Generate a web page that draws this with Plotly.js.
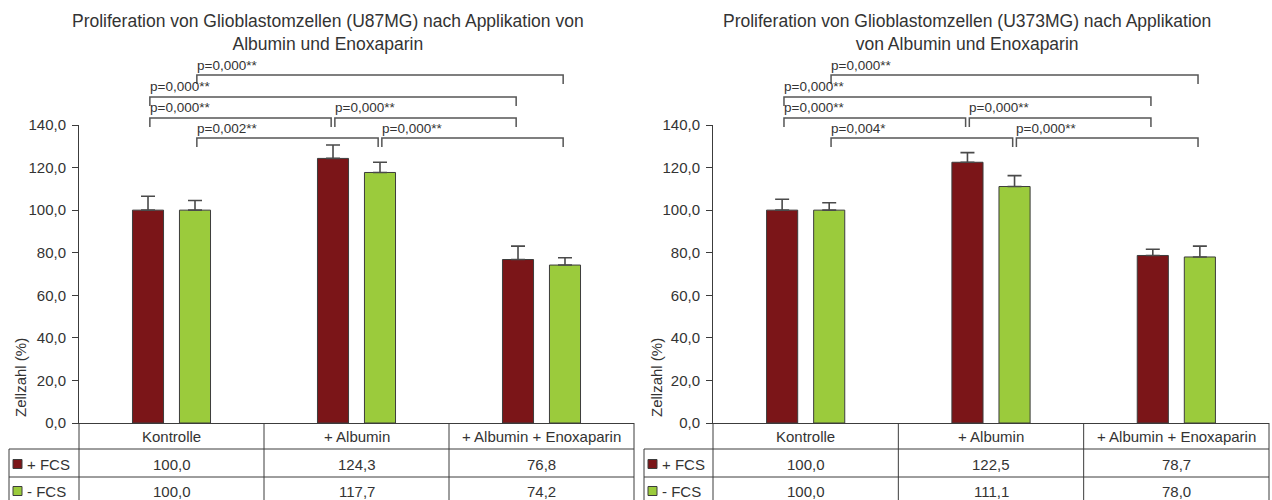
<!DOCTYPE html>
<html>
<head>
<meta charset="utf-8">
<script src="https://cdn.plot.ly/plotly-3.0.1.min.js"></script>
<style>
  html, body { margin: 0; padding: 0; background: #fff; }
  #chart { width: 1272px; height: 500px; }
</style>
</head>
<body>
<div id="chart"></div>
<script>
// Treatment groups and series
const categories = ['Kontrolle', '+ Albumin', '+ Albumin + Enoxaparin'];
const seriesNames = ['+ FCS', '- FCS'];

// U87MG: mean cell count (%) and standard deviation
const u87PlusFcs = [100.0, 124.3, 76.8];
const u87MinusFcs = [100.0, 117.7, 74.2];
const u87PlusFcsSd = [6.5, 6.3, 6.3];
const u87MinusFcsSd = [4.5, 4.8, 3.4];

// U373MG: mean cell count (%) and standard deviation
const u373PlusFcs = [100.0, 122.5, 78.7];
const u373MinusFcs = [100.0, 111.1, 78.0];
const u373PlusFcsSd = [5.1, 4.5, 2.9];
const u373MinusFcsSd = [3.5, 5.1, 5.1];

// Significance tests: from/to = [group index, series index], row = stacking row (0 = top)
const u87Tests = [
  { from: [0, 1], to: [2, 1], p: 'p=0,000**', row: 0 },
  { from: [0, 0], to: [2, 0], p: 'p=0,000**', row: 1 },
  { from: [0, 0], to: [1, 0], p: 'p=0,000**', row: 2 },
  { from: [1, 0], to: [2, 0], p: 'p=0,000**', row: 2 },
  { from: [0, 1], to: [1, 1], p: 'p=0,002**', row: 3 },
  { from: [1, 1], to: [2, 1], p: 'p=0,000**', row: 3 }
];
const u373Tests = [
  { from: [0, 1], to: [2, 1], p: 'p=0,000**', row: 0 },
  { from: [0, 0], to: [2, 0], p: 'p=0,000**', row: 1 },
  { from: [0, 0], to: [1, 0], p: 'p=0,000**', row: 2 },
  { from: [1, 0], to: [2, 0], p: 'p=0,000**', row: 2 },
  { from: [0, 1], to: [1, 1], p: 'p=0,004*', row: 3 },
  { from: [1, 1], to: [2, 1], p: 'p=0,000**', row: 3 }
];

const titleU87 = 'Proliferation von Glioblastomzellen (U87MG) nach Applikation von<br>Albumin und Enoxaparin';
const titleU373 = 'Proliferation von Glioblastomzellen (U373MG) nach Applikation<br>von Albumin und Enoxaparin';
const yTitle = 'Zellzahl (%)';

// ---- drawing ----
const W = 1272, H = 500;
const FONT = 'Liberation Sans, Arial, sans-serif';
const TEXT = '#333333';
const LINE = '#3c3c3c';
const COLORS = ['#7b1518', '#9bcb3c'];
const px = v => v / W;           // pixel -> paper x
const py = v => 1 - v / H;       // pixel -> paper y

const AXIS_TOP = 125, AXIS_BOTTOM = 423;
const HEADER_BOTTOM = 449, ROW1_BOTTOM = 477, TABLE_BOTTOM = 500;
const ROW_CENTERS = [436, 464, 491];
const BRACKET_ROWS = [75, 97, 118, 138];
const BRACKET_DROP = 9;
const BAR_SHIFT = 0.127;          // centre of each bar relative to its group

const panels = [
  { xa: 'x', ya: 'y', left: 79, right: 634, tableLeft: 9, titleX: 328, yTitleX: 20,
    title: titleU87, series: [u87PlusFcs, u87MinusFcs], sd: [u87PlusFcsSd, u87MinusFcsSd], tests: u87Tests },
  { xa: 'x2', ya: 'y2', left: 713, right: 1269, tableLeft: 644, titleX: 967, yTitleX: 656,
    title: titleU373, series: [u373PlusFcs, u373MinusFcs], sd: [u373PlusFcsSd, u373MinusFcsSd], tests: u373Tests }
];

const fmt = v => v.toFixed(1).replace('.', ',');
const xIdx = categories.map((c, i) => i);

const data = [];
const shapes = [];
const annotations = [];
const layout = {
  width: W, height: H,
  margin: { l: 0, r: 0, t: 0, b: 0 },
  paper_bgcolor: '#fff', plot_bgcolor: '#fff',
  separators: ',.',
  barmode: 'group', bargap: 0.492, bargroupgap: 0.339,
  showlegend: false,
  font: { family: FONT, color: TEXT, size: 15 }
};

panels.forEach((pn, k) => {
  const sfx = k === 0 ? '' : '2';
  layout['xaxis' + sfx] = {
    domain: [px(pn.left), px(pn.right)], range: [-0.5, 2.5], anchor: 'y' + sfx,
    showgrid: false, zeroline: false, showline: true, linecolor: LINE, linewidth: 1,
    ticks: '', showticklabels: false, fixedrange: true
  };
  layout['yaxis' + sfx] = {
    domain: [py(AXIS_BOTTOM), py(AXIS_TOP)], range: [0, 140], anchor: 'x' + sfx,
    dtick: 20, tick0: 0, tickformat: '.1f',
    ticks: 'outside', ticklen: 6, tickcolor: LINE, tickwidth: 1,
    ticklabelstandoff: 3,
    showline: true, linecolor: LINE, linewidth: 1,
    showgrid: false, zeroline: false, fixedrange: true,
    tickfont: { family: FONT, size: 15, color: TEXT }
  };

  // bars with upward error bars
  pn.series.forEach((vals, s) => {
    data.push({
      type: 'bar', x: xIdx, y: vals, name: seriesNames[s],
      xaxis: pn.xa, yaxis: pn.ya,
      marker: { color: COLORS[s], line: { color: LINE, width: 1 } },
      error_y: { type: 'data', array: pn.sd[s], arrayminus: pn.sd[s].map(() => 0), symmetric: false,
                 color: '#4a4a4a', thickness: 1.6, width: 7 },
      hoverinfo: 'y'
    });
  });

  // title
  annotations.push({
    xref: 'paper', yref: 'paper', x: px(pn.titleX), y: py(32.5), xanchor: 'center', yanchor: 'middle',
    text: pn.title, showarrow: false, align: 'center',
    font: { family: FONT, size: 17.5, color: TEXT }
  });
  // y axis title
  annotations.push({
    xref: 'paper', yref: 'paper', x: px(pn.yTitleX), y: py(378), textangle: -90,
    xanchor: 'center', yanchor: 'middle', text: yTitle, showarrow: false,
    font: { family: FONT, size: 15, color: TEXT }
  });

  // significance brackets
  pn.tests.forEach(t => {
    const x0 = t.from[0] + (t.from[1] === 0 ? -BAR_SHIFT : BAR_SHIFT) + 0.01;
    const x1 = t.to[0] + (t.to[1] === 0 ? -BAR_SHIFT : BAR_SHIFT) - 0.01;
    const yl = py(BRACKET_ROWS[t.row]);
    const yd = py(BRACKET_ROWS[t.row] + BRACKET_DROP);
    shapes.push({
      type: 'path', xref: pn.xa, yref: 'paper',
      path: `M ${x0},${yd} L ${x0},${yl} L ${x1},${yl} L ${x1},${yd}`,
      line: { color: '#555', width: 1.5 }
    });
    annotations.push({
      xref: pn.xa, yref: 'paper', x: x0, y: py(BRACKET_ROWS[t.row] - 10),
      xanchor: 'left', yanchor: 'middle', text: t.p, showarrow: false, xshift: -2,
      font: { family: FONT, size: 13.5, color: TEXT }
    });
  });

  // data table below the axis
  const hline = (yy, x0, x1) => shapes.push({ type: 'line', xref: 'paper', yref: 'paper',
    x0: px(x0), x1: px(x1), y0: py(yy), y1: py(yy), line: { color: LINE, width: 1 } });
  const vline = (xx, y0, y1) => shapes.push({ type: 'line', xref: 'paper', yref: 'paper',
    x0: px(xx), x1: px(xx), y0: py(y0), y1: py(y1), line: { color: LINE, width: 1 } });
  hline(HEADER_BOTTOM, pn.tableLeft, pn.right);
  hline(ROW1_BOTTOM, pn.tableLeft, pn.right);
  vline(pn.tableLeft, HEADER_BOTTOM, TABLE_BOTTOM);
  vline(pn.left, AXIS_BOTTOM, TABLE_BOTTOM);
  vline(pn.right, AXIS_BOTTOM, TABLE_BOTTOM);
  [0.5, 1.5].forEach(b => shapes.push({ type: 'line', xref: pn.xa, yref: 'paper',
    x0: b, x1: b, y0: py(AXIS_BOTTOM), y1: py(TABLE_BOTTOM), line: { color: LINE, width: 1 } }));

  categories.forEach((c, i) => {
    annotations.push({ xref: pn.xa, yref: 'paper', x: i, y: py(ROW_CENTERS[0]),
      xanchor: 'center', yanchor: 'middle', text: c, showarrow: false,
      font: { family: FONT, size: 15, color: TEXT } });
    pn.series.forEach((vals, s) => {
      annotations.push({ xref: pn.xa, yref: 'paper', x: i, y: py(ROW_CENTERS[s + 1]),
        xanchor: 'center', yanchor: 'middle', text: fmt(vals[i]), showarrow: false,
        font: { family: FONT, size: 15, color: TEXT } });
    });
  });
  seriesNames.forEach((nm, s) => {
    const cy = ROW_CENTERS[s + 1];
    shapes.push({ type: 'rect', xref: 'paper', yref: 'paper',
      x0: px(pn.tableLeft + 4), x1: px(pn.tableLeft + 13), y0: py(cy + 4.5), y1: py(cy - 4.5),
      fillcolor: COLORS[s], line: { color: LINE, width: 1 } });
    annotations.push({ xref: 'paper', yref: 'paper', x: px(pn.tableLeft + 16), y: py(cy),
      xanchor: 'left', yanchor: 'middle', text: nm, showarrow: false,
      font: { family: FONT, size: 15, color: TEXT } });
  });
});

layout.shapes = shapes;
layout.annotations = annotations;

Plotly.newPlot('chart', data, layout, { displayModeBar: false, staticPlot: true });
</script>
</body>
</html>
